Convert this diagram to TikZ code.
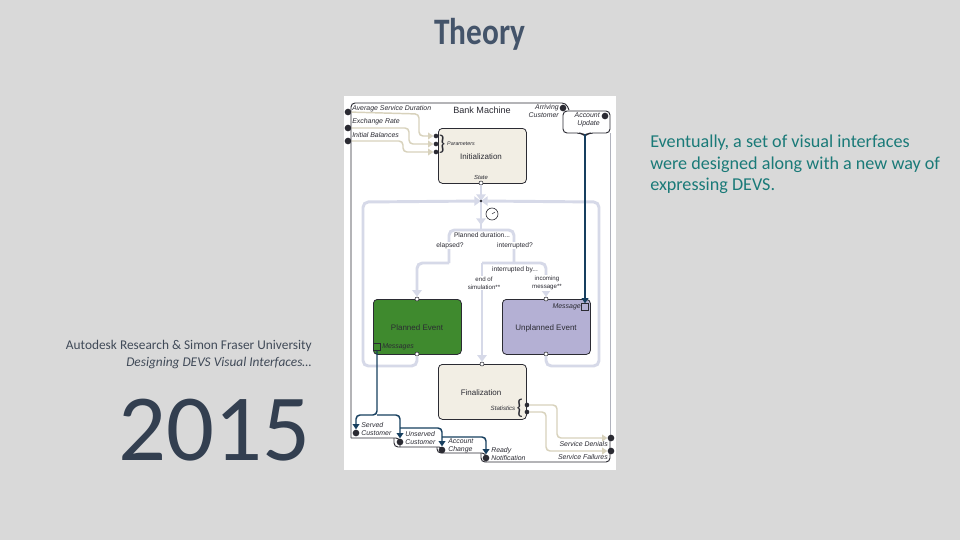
\documentclass[tikz,border=0pt]{standalone}
\usepackage{fontspec}
\setmainfont{Carlito}
\newfontfamily\dgm{Liberation Sans}
\newfontfamily\ttlf[FakeStretch=0.84]{Carlito}
\usetikzlibrary{arrows.meta}
\definecolor{bgc}{HTML}{D9D9D9}
\definecolor{slate}{HTML}{44546A}
\definecolor{navy}{HTML}{333F50}
\definecolor{cap}{HTML}{404A58}
\definecolor{tealt}{HTML}{1A7A78}
\definecolor{lav}{HTML}{D6D9E8}
\definecolor{tanl}{HTML}{D8D2BC}
\definecolor{deep}{HTML}{173F5F}
\definecolor{cream}{HTML}{F2EEE4}
\definecolor{grn}{HTML}{3F8A2E}
\definecolor{pur}{HTML}{B4B0D4}
\definecolor{ink}{HTML}{2B2B33}
\definecolor{edge}{HTML}{B0B2BC}
\tikzset{
 x=0.75pt,y=-0.75pt,
 title/.style={font=\ttlf\fontsize{28}{30}\selectfont\bfseries,text=slate},
 para/.style={font=\fontsize{13.6}{16.1}\selectfont,text=tealt,align=left,anchor=north west,inner sep=0},
 cred/.style={font=\fontsize{10}{12.6}\selectfont,text=cap,align=right,anchor=east,inner sep=0},
 bigyear/.style={font=\fontsize{71}{74}\selectfont,text=navy,inner sep=0},
 box/.style={draw=ink,line width=0.6pt,rounded corners=3pt,inner sep=0,anchor=north west},
 lbl/.style={font=\dgm\fontsize{5}{6}\selectfont,text=ink,inner sep=0,align=center},
 ilbl/.style={font=\dgm\itshape\fontsize{5.2}{6}\selectfont,text=ink,inner sep=0,align=left},
 blbl/.style={font=\dgm\fontsize{6.8}{8}\selectfont,text=ink,inner sep=0},
 lavl/.style={draw=lav,line width=2.2pt,rounded corners=4pt},
 lava/.style={lavl,-{Triangle[length=5pt,width=7pt]}},
 tanline/.style={draw=tanl,line width=1.1pt,rounded corners=3pt,-{Triangle[length=4pt,width=5pt]}},
 deepl/.style={draw=deep,line width=1.1pt,rounded corners=3pt},
 deepa/.style={deepl,-{Triangle[length=4pt,width=5pt]}},
 dotp/.style={circle,fill=ink,inner sep=0,minimum size=5pt},
 smallp/.style={circle,fill=ink,inner sep=0,minimum size=3.5pt},
 openp/.style={circle,draw=ink,fill=white,line width=0.4pt,inner sep=0,minimum size=3pt},
 sq/.style={draw=ink,line width=0.4pt,inner sep=0,minimum size=5pt},
 tab/.style={draw=ink,line width=0.7pt,rounded corners=3pt},
}
\begin{document}
\begin{tikzpicture}
\useasboundingbox (0,0) rectangle (960,540);
\fill[bgc] (0,0) rectangle (960,540);
\node[title] (ttl) at (480,34) {Theory};
\node[para] (txt) at (650,135) {Eventually, a set of visual interfaces\\were designed along with a new way of\\expressing DEVS.};
\node[cred] (c1) at (312,346) {Autodesk Research \& Simon Fraser University};
\node[cred,font=\fontsize{10}{12.6}\selectfont\itshape] (c2) at (312,363) {Designing DEVS Visual Interfaces…};
\node[bigyear] (yr) at (214,430) {2015};
% panel
\fill[white] (344,96) rectangle (616,470);
% outer machine outline
\draw[tab] (351,438) -- (351,103) -- (566,103) -- (569,110);
\draw[edge,line width=0.7pt] (610,133) -- (610,440);
\draw[tab] (610,440) -- (610,462) -- (481,462) -- (481,453);
\draw[tab] (351,438) -- (400,438) -- (400,447);
\draw[tab] (394,438) -- (394,447) -- (443,447) -- (443,453);
\draw[tab] (437,447) -- (437,453) -- (486,453) -- (486,462);
% tabs
\draw[tab,fill=white] (563,111) -- (610,111) -- (610,133) -- (589,133) -- (585,136) -- (581,133) -- (563,133) -- cycle;
% boxes
\node[box,fill=cream,minimum width=66pt,minimum height=41.25pt] (init) at (438,128) {};
\node[box,fill=grn,minimum width=66pt,minimum height=41.25pt] (plan) at (373,299) {};
\node[box,fill=pur,minimum width=66pt,minimum height=41.25pt] (unpl) at (502,299) {};
\node[box,fill=cream,minimum width=66pt,minimum height=41.25pt] (fin) at (438,364) {};
% ports
\node[openp] (st) at (481,183) {};
\node[openp] (pt) at (417,299) {};
\node[openp] (pb) at (417,354) {};
\node[openp] (ut) at (546,299) {};
\node[openp] (ub) at (546,354) {};
\node[openp] (ft) at (482,364) {};
\node[sq] (um) at (585,307) {};
\node[sq] (pm) at (377,347) {};
\coordinate (hub) at (481,201);
\coordinate (dur) at (481,230);
\coordinate (intr) at (514,263);
% lavender flow
\draw[lavl,-{Triangle[length=5pt,width=7pt]}] (st) -- (hub);
\draw[lavl] (hub) -- (dur);
\draw[lava] (481,212) -- (481,225);
\draw[lava] (pb) |- (363,366) -- (363,202) -- (hub);
\draw[lava] (ub) |- (599,366) -- (599,202) -- (hub);
\draw[lavl] (449,263) -- (449,230) -- (514,230) -- (514,263);
\draw[lava] (449,263) -- (417,263) -- (pt);
\draw[lava] (ft |- intr) -- (546,263) -- (ut);
\draw[lava] (ft |- intr) -- (ft);
% clock
\node[circle,draw=ink,fill=white,line width=0.5pt,minimum size=9pt,inner sep=0] (clk) at (492,214) {};
\draw[ink,line width=0.4pt] (clk.center) -- ++(3,-2);
\node[smallp,minimum size=2pt] (hubdot) at (481,201) {};
% tan flows
\node[smallp] (ip1) at (436,136) {};
\node[smallp] (ip2) at (436,144) {};
\node[smallp] (ip3) at (436,152) {};
\node[dotp] (in1) at (348,112) {};
\node[dotp] (in2) at (348,128) {};
\node[dotp] (in3) at (348,141) {};
\draw[tanline] (in1) -- (419,114) -- (419,136) -- (ip1);
\draw[tanline] (in2) -- (409,128) -- (409,144) -- (ip2);
\draw[tanline] (in3) -- (403,141) -- (403,152) -- (ip3);
\node[smallp] (fo1) at (527,405) {};
\node[smallp] (fo2) at (527,412) {};
\node[dotp] (ou1) at (611,438) {};
\node[dotp] (ou2) at (611,451) {};
\draw[tanline] (fo1) -- (557,405) -- (557,438) -- (ou1);
\draw[tanline] (fo2) -- (546,412) -- (546,451) -- (ou2);
% deep flows
\node[dotp] (aa) at (563,108) {};
\node[dotp] (au) at (605,116) {};
\node[dotp] (sc) at (356,433) {};
\node[dotp] (uc) at (400,442) {};
\node[dotp] (ac) at (442,450) {};
\node[dotp] (rn) at (486,458) {};
\draw[deepa] (585,134) -- (um);
\draw[deepa] (pm) -- (377,415) -- (356,415) -- (sc);
\draw[deepa] (377,415) -- (400,415) -- (uc);
\draw[deepa] (400,428) -- (442,428) -- (ac);
\draw[deepa] (442,437) -- (486,437) -- (rn);
% labels
\node[blbl] (t0) at (482,110) {Bank Machine};
\node[ilbl,anchor=west] (t1) at (352,109) {Average Service Duration};
\node[ilbl,anchor=west] (t2) at (352,122) {Exchange Rate};
\node[ilbl,anchor=west] (t3) at (352,135) {Initial Balances};
\node[ilbl,anchor=east,align=right] (t4) at (559,111) {Arriving\\Customer};
\node[ilbl,anchor=east,align=right] (t5) at (600,120) {Account\\Update};
\node[ilbl,font=\dgm\itshape\fontsize{4}{5}\selectfont] (t6) at (461,144) {Parameters};
\node[lbl,font=\dgm\fontsize{6}{7}\selectfont] (t7) at (481,157) {Initialization};
\node[ilbl,font=\dgm\itshape\fontsize{4.4}{5}\selectfont] (t8) at (481,177) {State};
\node[ink,font=\fontsize{16}{16}\selectfont,inner sep=0] (b1) at (442,144) {\}};
\node[lbl] (t9) at (482,235) {Planned duration...};
\node[lbl,fill=white,inner sep=0.5pt] (t10) at (450,245.5) {elapsed?};
\node[lbl,fill=white,inner sep=0.5pt] (t11) at (515,245.5) {interrupted?};
\node[lbl] (t12) at (515,270) {interrupted by...};
\node[lbl,fill=white,inner sep=0.5pt,font=\dgm\fontsize{4.6}{6}\selectfont] (t13) at (484,283) {end of\\simulation**};
\node[lbl,fill=white,inner sep=0.5pt,font=\dgm\fontsize{4.6}{6}\selectfont] (t14) at (547,283) {incoming\\message**};
\node[ilbl,anchor=east] (t15) at (581,307) {Message};
\node[lbl,font=\dgm\fontsize{6}{7}\selectfont] (t16) at (417,328) {Planned Event};
\node[lbl,font=\dgm\fontsize{6}{7}\selectfont] (t17) at (546,328) {Unplanned Event};
\node[ilbl,anchor=west] (t18) at (382,347) {Messages};
\node[lbl,font=\dgm\fontsize{6}{7}\selectfont] (t19) at (481,393) {Finalization};
\node[ilbl,font=\dgm\itshape\fontsize{4.6}{5}\selectfont] (t20) at (503,408) {Statistics};
\node[ink,font=\fontsize{16}{16}\selectfont,inner sep=0] (b2) at (520,408) {\{};
\node[ilbl,anchor=west] (t21) at (361,429) {Served\\Customer};
\node[ilbl,anchor=west] (t22) at (405,438) {Unserved\\Customer};
\node[ilbl,anchor=west] (t23) at (448,446) {Account\\Change};
\node[ilbl,anchor=west] (t24) at (491,454) {Ready\\Notification};
\node[ilbl,anchor=east] (t25) at (608,444) {Service Denials};
\node[ilbl,anchor=east] (t26) at (608,457) {Service Failures};
\end{tikzpicture}
\end{document}
